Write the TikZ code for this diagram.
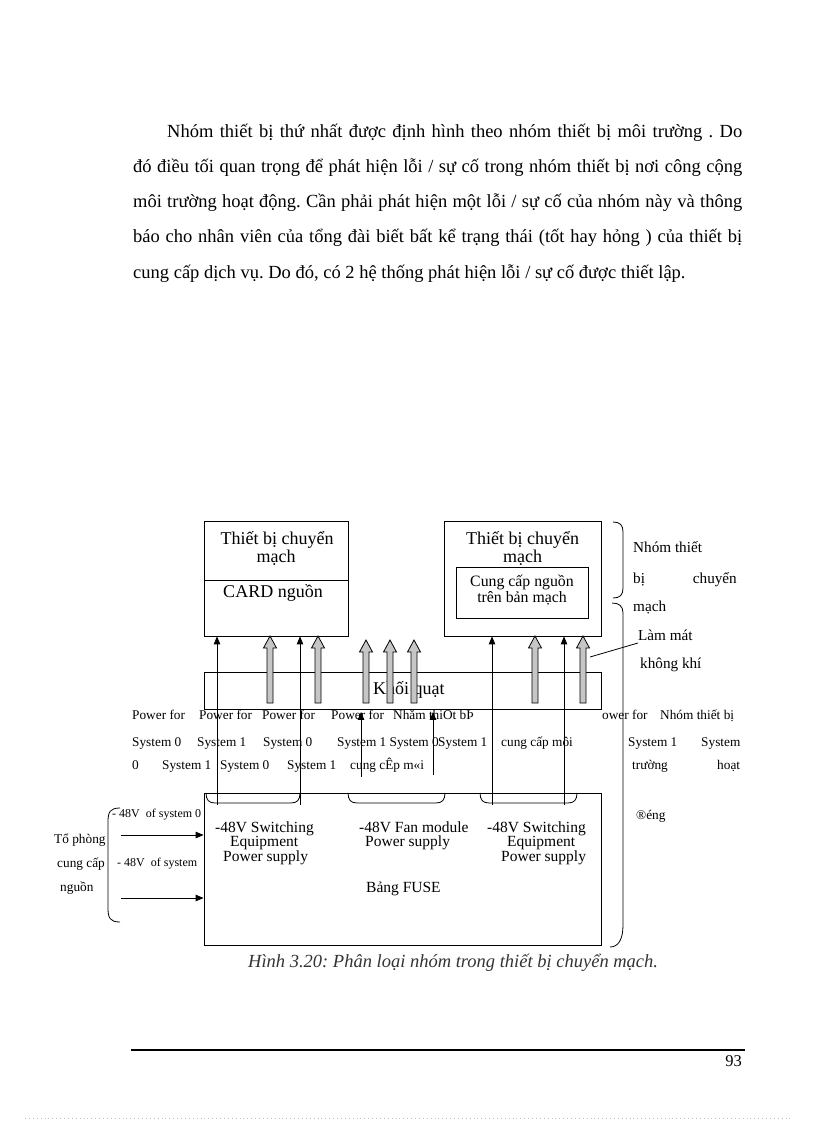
\documentclass[tikz,border=0pt]{standalone}
\usepackage{fontspec}
\setmainfont{Liberation Serif}
\usetikzlibrary{arrows}
\frenchspacing

\begin{document}
\begin{tikzpicture}[
  x=1pt,y=-1pt,
  block/.style={draw,line width=0.9pt,fill=white,inner sep=0pt},
  boxtext/.style={inner sep=0pt,anchor=base,font=\fontsize{18}{18}\selectfont},
  innertext/.style={inner sep=0pt,anchor=base,font=\fontsize{15.8}{16}\selectfont},
  fusetext/.style={inner sep=0pt,anchor=base west,font=\fontsize{15.5}{16}\selectfont},
  rowtext/.style={inner sep=0pt,anchor=base west,font=\fontsize{13.3}{15}\selectfont},
  sidetext/.style={inner sep=0pt,anchor=base west,font=\fontsize{15.2}{16}\selectfont},
  para/.style={inner sep=0pt,anchor=base west,font=\fontsize{18.5}{20}\selectfont},
  fanarrow/.style={draw,fill=gray!45,line width=0.8pt},
  to/.style={->,>=triangle 45,line width=0.8pt},
  curl/.style={line width=0.8pt}]

  \useasboundingbox (0,0) rectangle (816,1123);

  % Paragraph above the figure
  \node[para] (p1) at (167,138) {\makebox[575pt][s]{Nhóm thiết bị thứ nhất được định hình theo nhóm thiết bị môi trường . Do}};
  \node[para] (p2) at (133,173) {\makebox[609pt][s]{đó điều tối quan trọng để phát hiện lỗi / sự cố trong nhóm thiết bị nơi công cộng}};
  \node[para] (p3) at (133,208) {\makebox[609pt][s]{môi trường hoạt động. Cần phải phát hiện một lỗi / sự cố của nhóm này và thông}};
  \node[para] (p4) at (133,243) {\makebox[609pt][s]{báo cho nhân viên của tổng đài biết bất kể trạng thái (tốt hay hỏng ) của thiết bị}};
  \node[para] (p5) at (133,278) {cung cấp dịch vụ. Do đó, có 2 hệ thống phát hiện lỗi / sự cố được thiết lập.};

  % Power room on the left
  \node[rowtext,font=\fontsize{12}{14}\selectfont] (v0) at (112,817) {- 48V\ \ of system 0};
  \node[rowtext,font=\fontsize{12}{14}\selectfont] (v1) at (117,866) {- 48V\ \ of system};
  \node[rowtext] (room1) at (54,843) {Tổ phòng};
  \node[rowtext] (room2) at (57,867) {cung cấp};
  \node[rowtext] (room3) at (60,891) {nguồn};

  % Blocks
  \node[block,minimum width=144pt,minimum height=115pt] (swA) at (276,578.5) {};
  \draw[line width=0.9pt] (swA.west |- 0,580) -- (swA.east |- 0,580);
  \node[block,minimum width=157pt,minimum height=115pt] (swB) at (522.5,578.5) {};
  \node[block,minimum width=132pt,minimum height=51pt] (psu) at (522,592.5) {};
  \node[block,minimum width=397pt,minimum height=37pt] (fan) at (402.5,690.5) {};
  \node[block,minimum width=397pt,minimum height=152pt] (fuse) at (402.5,869) {};

  \node[boxtext] (swAt1) at (277,544) {Thiết bị chuyển};
  \node[boxtext] (swAt2) at (276,562) {mạch};
  \node[boxtext] (card) at (273,597) {CARD nguồn};
  \node[boxtext] (swBt1) at (522.5,544) {Thiết bị chuyển};
  \node[boxtext] (swBt2) at (522.5,562) {mạch};
  \node[innertext] (psut1) at (522,586) {Cung cấp nguồn};
  \node[innertext] (psut2) at (522,602) {trên bản mạch};
  \node[boxtext,anchor=base west] (fant) at (373,694) {Khối quạt};

  \node[fusetext] (fa1) at (215,832) {-48V Switching};
  \node[fusetext] (fa2) at (230,846) {Equipment};
  \node[fusetext] (fa3) at (223,861) {Power supply};
  \node[fusetext] (fb1) at (359,832) {-48V Fan module};
  \node[fusetext] (fb2) at (365,846) {Power supply};
  \node[fusetext] (fc1) at (487,832) {-48V Switching};
  \node[fusetext] (fc2) at (507,846) {Equipment};
  \node[fusetext] (fc3) at (501,861) {Power supply};
  \node[fusetext] (fuset) at (366,892) {Bảng FUSE};

  % Text rows between the fan block and the fuse board
  \foreach \x/\t [count=\i] in {132/Power for,199/Power for,262/Power for,331/Power for,393/Nhăm thiOt bÞ,602/ower for,660/Nhóm thiết bị}
    \node[rowtext] (ra\i) at (\x,719) {\t};
  \foreach \x/\t [count=\i] in {132/System 0,197/System 1,263/System 0,337/System 1 System 0,438/System 1,501/cung cấp môi,628/System 1,701/System}
    \node[rowtext] (rb\i) at (\x,746) {\t};
  \foreach \x/\t [count=\i] in {132/0,162/System 1,220/System 0,287/System 1,350/cung cÊp m«i,632/trường,717/hoạt}
    \node[rowtext] (rc\i) at (\x,769) {\t};
  \node[rowtext] (rd1) at (636,819) {®éng};

  % Group labels on the right
  \node[sidetext] (g1) at (633,552) {Nhóm thiết};
  \node[sidetext] (g2) at (633,583) {bị};
  \node[sidetext,anchor=base east] (g3) at (737,583) {chuyển};
  \node[sidetext] (g4) at (633,611) {mạch};
  \node[sidetext] (air1) at (638,640) {Làm mát};
  \node[sidetext] (air2) at (640,668) {không khí};

  % Thin power lines
  \foreach \x/\n in {217/a1,300/a2} {
    \coordinate (\n) at (\x,805);
    \draw[to] (\n) -- (\n |- swA.south);
  }
  \foreach \x/\n in {492/b1,564/b2} {
    \coordinate (\n) at (\x,805);
    \draw[to] (\n) -- (\n |- swB.south);
  }
  \coordinate (m1) at (361,777);
  \coordinate (m2) at (433,775);
  \draw[to] (m1) -- (361,712);
  \draw[to] (m2) -- (433,712);
  \coordinate (in0) at (121,835);
  \coordinate (in1) at (121,898);
  \draw[to] (in0) -- (in0 -| fuse.west);
  \draw[to] (in1) -- (in1 -| fuse.west);

  % Air flow arrows
  \foreach \x/\yt in {270/636,318/636,366/640,390/640,414/640,535/636,583/636}
    \draw[fanarrow] ({\x-3},703) -- ({\x-3},{\yt+12}) -- ({\x-6.5},{\yt+12}) -- (\x,\yt)
      -- ({\x+6.5},{\yt+12}) -- ({\x+3},{\yt+12}) -- ({\x+3},703) -- cycle;

  % Brackets
  \foreach \xa/\xb in {206/300,348/445,480/577}
    \draw[curl] (\xa,793) .. controls (\xa,800) and ({\xa+3},803) .. ({\xa+9},803) -- ({\xb-9},803)
      .. controls ({\xb-3},803) and (\xb,800) .. (\xb,793);
  \draw[curl] (120,808) .. controls (110,808) and (108,812) .. (108,822) -- (108,908)
    .. controls (108,918) and (110,922) .. (120,922);
  \draw[curl] (613,522) .. controls (620,522) and (623,525) .. (623,532) -- (623,588)
    .. controls (623,595) and (620,598) .. (613,598);
  \draw[curl] (612,603) .. controls (619,603) and (623,606) .. (623,613) -- (623,925)
    .. controls (623,940) and (618,947) .. (610,947);
  \coordinate (lead) at (590,657);
  \draw[line width=0.8pt] (air1.west |- 0,643) -- (lead);

  % Caption and footer
  \node[inner sep=0pt,anchor=base west,font=\fontsize{18.5}{20}\selectfont\itshape,text=black!80] (cap) at (248,967)
    {Hình 3.20: Phân loại nhóm trong thiết bị chuyển mạch.};
  \draw[line width=2.2pt] (131,1050) -- coordinate (foot) (745,1050);
  \node[para,anchor=base east,font=\fontsize{16.5}{18}\selectfont] (page) at (742,1066) {93};
  \draw[gray!50,line width=0.6pt,dash pattern=on 0.6pt off 3.3pt] (25,1118) -- (791,1118);
\end{tikzpicture}
\end{document}
